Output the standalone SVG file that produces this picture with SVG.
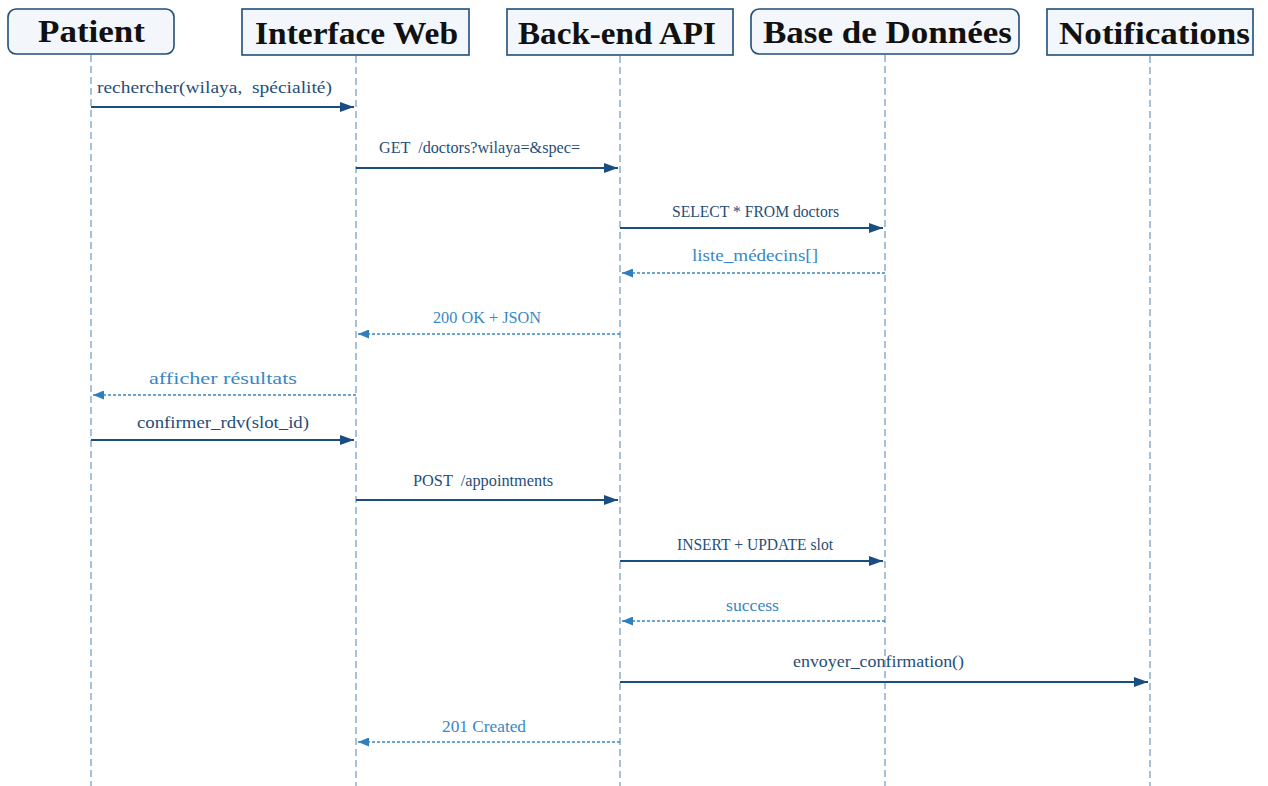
<svg xmlns="http://www.w3.org/2000/svg" width="1268" height="786" viewBox="0 0 1268 786">
  <style>
    .box { fill: #f3f7fb; stroke: #1f4e79; stroke-width: 1.6; }
    .title { font-family: "Liberation Serif", "Times New Roman", serif; font-weight: bold; font-size: 31px; fill: #111; text-anchor: middle; }
    .life { stroke: #a6c1d8; stroke-width: 2; stroke-dasharray: 7 4; fill: none; }
    .call { stroke: #1a4d80; stroke-width: 2.2; fill: none; marker-end: url(#solidHead); }
    .ret { stroke: #3a87c4; stroke-width: 1.3; stroke-dasharray: 3 2; fill: none; marker-end: url(#openHead); }
    .lbl { font-family: "Liberation Serif", "Times New Roman", serif; font-size: 16px; text-anchor: middle; }
    .lcall { fill: #1f4e79; }
    .lret { fill: #3a87c4; }
  </style>
  <defs>
    <marker id="solidHead" markerWidth="14" markerHeight="10" refX="14" refY="5" orient="auto" markerUnits="userSpaceOnUse">
      <path d="M0,0 L14,5 L0,10 Z" fill="#1a4d80"/>
    </marker>
    <marker id="openHead" markerWidth="11" markerHeight="9" refX="11" refY="4.5" orient="auto" markerUnits="userSpaceOnUse">
      <path d="M0,0 L11,4.5 L0,9 Z" fill="#2f7fc0"/>
    </marker>
  </defs>

  <rect width="1268" height="786" fill="#ffffff"/>

  <!-- lifelines -->
  <g id="lifelines">
    <line class="life" x1="91" y1="55" x2="91" y2="786"/>
    <line class="life" x1="356" y1="56" x2="356" y2="786"/>
    <line class="life" x1="620" y1="56" x2="620" y2="786"/>
    <line class="life" x1="885" y1="55" x2="885" y2="786"/>
    <line class="life" x1="1150" y1="56" x2="1150" y2="786"/>
  </g>

  <!-- participants -->
  <g id="patient">
    <rect class="box" x="8" y="9" width="166" height="45" rx="8"/>
    <text class="title" x="91.5" y="42" textLength="107" lengthAdjust="spacingAndGlyphs">Patient</text>
  </g>
  <g id="interface-web">
    <rect class="box" x="242" y="9" width="227" height="46"/>
    <text class="title" x="356.5" y="44" textLength="203" lengthAdjust="spacingAndGlyphs">Interface Web</text>
  </g>
  <g id="backend-api">
    <rect class="box" x="507" y="9" width="226" height="46"/>
    <text class="title" x="617" y="44" textLength="198" lengthAdjust="spacingAndGlyphs">Back-end API</text>
  </g>
  <g id="base-de-donnees">
    <rect class="box" x="751" y="9" width="268" height="45" rx="8"/>
    <text class="title" x="887.5" y="43" textLength="249" lengthAdjust="spacingAndGlyphs">Base de Données</text>
  </g>
  <g id="notifications">
    <rect class="box" x="1047" y="9" width="206" height="46"/>
    <text class="title" x="1154.5" y="44" textLength="191" lengthAdjust="spacingAndGlyphs">Notifications</text>
  </g>

  <!-- messages -->
  <g id="connectors">
    <line class="call" x1="91" y1="107" x2="354" y2="107"/>
    <line class="call" x1="356" y1="168" x2="618" y2="168"/>
    <line class="call" x1="620" y1="228" x2="883" y2="228"/>
    <line class="ret" x1="885" y1="273" x2="622" y2="273"/>
    <line class="ret" x1="620" y1="334" x2="358" y2="334"/>
    <line class="ret" x1="356" y1="395" x2="93" y2="395"/>
    <line class="call" x1="91" y1="440" x2="354" y2="440"/>
    <line class="call" x1="356" y1="500" x2="618" y2="500"/>
    <line class="call" x1="620" y1="561" x2="883" y2="561"/>
    <line class="ret" x1="885" y1="621" x2="622" y2="621"/>
    <line class="call" x1="620" y1="682" x2="1148" y2="682"/>
    <line class="ret" x1="620" y1="742" x2="358" y2="742"/>
  </g>

  <g id="labels">
    <text class="lbl lcall" x="214.5" y="93" textLength="235" lengthAdjust="spacingAndGlyphs" xml:space="preserve">rechercher(wilaya,  spécialité)</text>
    <text class="lbl lcall" x="479.5" y="153" textLength="201" lengthAdjust="spacingAndGlyphs" xml:space="preserve">GET  /doctors?wilaya=&amp;spec=</text>
    <text class="lbl lcall" x="755.5" y="217" textLength="167" lengthAdjust="spacingAndGlyphs">SELECT * FROM doctors</text>
    <text class="lbl lret" x="755" y="261" textLength="126" lengthAdjust="spacingAndGlyphs">liste_médecins[]</text>
    <text class="lbl lret" x="487" y="323" textLength="108" lengthAdjust="spacingAndGlyphs">200 OK + JSON</text>
    <text class="lbl lret" x="223" y="384" textLength="148" lengthAdjust="spacingAndGlyphs">afficher résultats</text>
    <text class="lbl lcall" x="223" y="428" textLength="172" lengthAdjust="spacingAndGlyphs">confirmer_rdv(slot_id)</text>
    <text class="lbl lcall" x="483" y="486" textLength="140" lengthAdjust="spacingAndGlyphs" xml:space="preserve">POST  /appointments</text>
    <text class="lbl lcall" x="755" y="550" textLength="156" lengthAdjust="spacingAndGlyphs">INSERT + UPDATE slot</text>
    <text class="lbl lret" x="752.5" y="611" textLength="53" lengthAdjust="spacingAndGlyphs">success</text>
    <text class="lbl lcall" x="878.5" y="667" textLength="171" lengthAdjust="spacingAndGlyphs">envoyer_confirmation()</text>
    <text class="lbl lret" x="484" y="732" textLength="84" lengthAdjust="spacingAndGlyphs">201 Created</text>
  </g>
</svg>
